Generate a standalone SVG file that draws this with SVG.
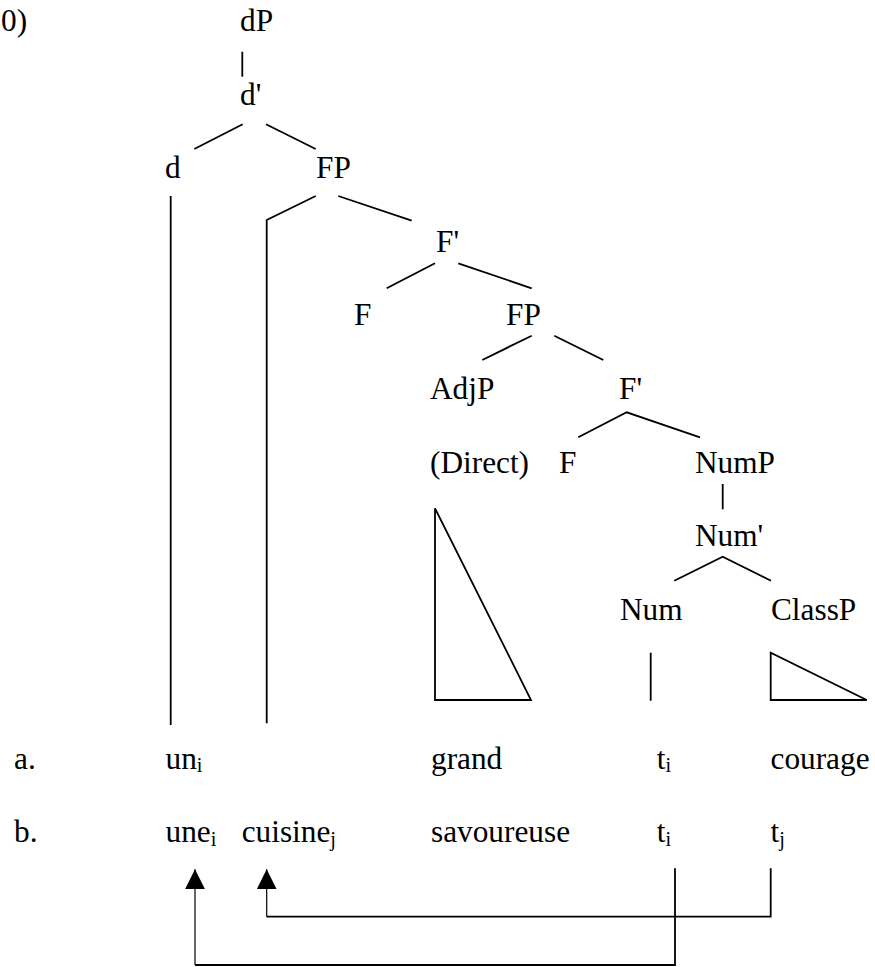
<svg xmlns="http://www.w3.org/2000/svg" width="875" height="967" viewBox="0 0 875 967">
<defs>
<marker id="arrow" viewBox="0 0 20 20" refX="20" refY="10" markerWidth="20" markerHeight="20" markerUnits="userSpaceOnUse" orient="auto">
<path d="M0,0 L20,10 L0,20 z" fill="#000"/>
</marker>
<style>
text{font-family:"Liberation Serif","Times New Roman",serif;font-size:31.3px;fill:#000}
.sub{font-size:20.3px}
.l{stroke:#000;stroke-width:1.8;fill:none}
.s{stroke:#000;stroke-width:1.2;fill:none}
.tri{stroke:#000;stroke-width:1.8;fill:#fff}
</style>
</defs>
<rect width="875" height="967" fill="#fff"/>
<g id="connectors">
<line class="l" x1="242.3" y1="51.7" x2="242.3" y2="76.7"/>
<line class="l" x1="242.7" y1="124.3" x2="194.3" y2="149"/>
<line class="l" x1="266" y1="124.3" x2="315.7" y2="149"/>
<line class="l" x1="170.7" y1="196" x2="170.7" y2="725"/>
<polyline class="l" points="315.7,196 266.7,220 266.7,723.3"/>
<line class="l" x1="338.3" y1="196" x2="411.7" y2="220.7"/>
<line class="l" x1="435" y1="263.3" x2="386.7" y2="288.3"/>
<line class="l" x1="458.3" y1="263.3" x2="531.7" y2="288.3"/>
<line class="l" x1="531.7" y1="335.7" x2="482.3" y2="360"/>
<line class="l" x1="554.3" y1="335.7" x2="603.3" y2="360"/>
<polyline class="l" points="578.3,437.3 626.7,412.3 700,437.3"/>
<line class="l" x1="722.7" y1="484" x2="722.7" y2="509.3"/>
<polyline class="l" points="674.3,580.7 722.7,556.7 771,580.7"/>
<polygon class="tri" points="435,508.3 435,700 531,700"/>
<line class="l" x1="650.7" y1="652.7" x2="650.7" y2="700.7"/>
<polygon class="tri" points="770.7,652.7 770.7,700 866.7,700"/>
<polyline class="l" points="675,868.3 675,965 195,965"/>
<line class="s" x1="195" y1="965" x2="195" y2="869.3" marker-end="url(#arrow)"/>
<polyline class="l" points="770.7,868.3 770.7,916.7 266.7,916.7"/>
<line class="s" x1="266.7" y1="916.7" x2="266.7" y2="869.3" marker-end="url(#arrow)"/>
</g>
<g id="label-num"><text x="1" y="31">0)</text></g>
<g id="node-dP"><text x="240" y="31">dP</text></g>
<g id="node-dbar"><text x="240" y="104.6">d'</text></g>
<g id="node-d"><text x="165" y="178">d</text></g>
<g id="node-FP1"><text x="316" y="178">FP</text></g>
<g id="node-Fbar1"><text x="436" y="251.7">F'</text></g>
<g id="node-F1"><text x="354" y="325">F</text></g>
<g id="node-FP2"><text x="506" y="325">FP</text></g>
<g id="node-AdjP"><text x="430" y="399">AdjP</text></g>
<g id="node-Fbar2"><text x="619" y="399">F'</text></g>
<g id="node-Direct"><text x="430" y="472.7">(Direct)</text></g>
<g id="node-F2"><text x="559" y="472.7">F</text></g>
<g id="node-NumP"><text x="695" y="472.7">NumP</text></g>
<g id="node-Numbar"><text x="695" y="546">Num'</text></g>
<g id="node-Num"><text x="620" y="619.5">Num</text></g>
<g id="node-ClassP"><text x="771" y="619.5">ClassP</text></g>
<g id="row-a">
<text x="14" y="768.5">a.</text>
<text x="165.5" y="768.5">un<tspan class="sub" dy="3.5">i</tspan></text>
<text x="431" y="768.5">grand</text>
<text x="656.7" y="768.5">t<tspan class="sub" dy="3.5">i</tspan></text>
<text x="770.5" y="768.5">courage</text>
</g>
<g id="row-b">
<text x="14" y="842">b.</text>
<text x="165.5" y="842">une<tspan class="sub" dy="3.5">i</tspan></text>
<text x="241.7" y="842">cuisine<tspan class="sub" dy="3.5">j</tspan></text>
<text x="431" y="842">savoureuse</text>
<text x="656.7" y="842">t<tspan class="sub" dy="3.5">i</tspan></text>
<text x="770.5" y="842">t<tspan class="sub" dy="3.5">j</tspan></text>
</g>
</svg>
